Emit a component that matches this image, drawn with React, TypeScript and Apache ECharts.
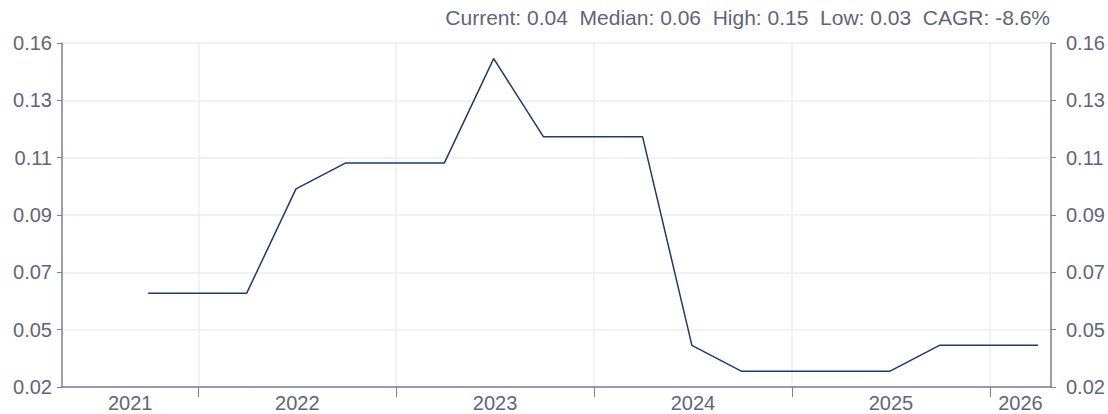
import React, { useEffect, useRef } from "react";
import * as echarts from "echarts";

const dates: string[] = [
  "2021-09-30", "2021-12-31", "2022-03-31", "2022-06-30", "2022-09-30",
  "2022-12-31", "2023-03-31", "2023-06-30", "2023-09-30", "2023-12-31",
  "2024-03-31", "2024-06-30", "2024-09-30", "2024-12-31", "2025-03-31",
  "2025-06-30", "2025-09-30", "2025-12-31", "2026-03-31",
];
const values: number[] = [
  0.06, 0.06, 0.06, 0.10, 0.11,
  0.11, 0.11, 0.15, 0.12, 0.12,
  0.12, 0.04, 0.03, 0.03, 0.03,
  0.03, 0.04, 0.04, 0.04,
];
const yearStarts: string[] = ["2022-01-01", "2023-01-01", "2024-01-01", "2025-01-01", "2026-01-01"];
const axisStart = "2021-04-24";
const axisEnd = "2026-04-24";
const summary = "Current: 0.04  Median: 0.06  High: 0.15  Low: 0.03  CAGR: -8.6%";

const FONT = "'Liberation Sans', Arial, Helvetica, sans-serif";
const TEXT = "#5f6480";
const AXIS = "#7b7f99";
const GRIDC = "#ececf4";
const LINE = "#1f3a6e";

export default function App() {
  const ref = useRef<HTMLDivElement>(null);
  useEffect(() => {
    if (!ref.current) return;
    const chart = echarts.init(ref.current, undefined, { renderer: "svg" });
    const DAY = 86400000;
    const t = (s: string) => new Date(s + "T00:00:00Z").getTime() / DAY;
    const minT = t(axisStart);
    const maxT = t(axisEnd);
    const bounds = [minT, ...yearStarts.map(t), maxT];
    const labelVals: number[] = [];
    for (let i = 0; i < bounds.length - 1; i++) labelVals.push((bounds[i] + bounds[i + 1]) / 2);
    const yAxisBase = {
      type: "value" as const,
      min: 0.024,
      max: 0.156,
      interval: 0.022,
      axisLine: { show: true, lineStyle: { color: AXIS, width: 1.5 } },
      axisTick: { show: true, length: 5, lineStyle: { color: AXIS } },
      axisLabel: {
        color: TEXT,
        fontSize: 20,
        fontFamily: FONT,
        formatter: (v: number) => v.toFixed(2),
      },
    };
    chart.setOption({
      animation: false,
      title: {
        text: summary,
        right: 58,
        top: 7,
        padding: 0,
        textStyle: { color: TEXT, fontSize: 21, fontWeight: "normal", fontFamily: FONT },
      },
      grid: { left: 62, right: 57, top: 43, bottom: 27 },
      xAxis: {
        type: "value",
        min: minT,
        max: maxT,
        axisLine: { show: true, lineStyle: { color: AXIS, width: 1.5 } },
        axisTick: { show: true, length: 10, customValues: yearStarts.map(t), lineStyle: { color: AXIS } },
        splitLine: { show: true, lineStyle: { color: GRIDC, width: 1.5 } },
        axisLabel: {
          customValues: labelVals,
          color: TEXT,
          fontSize: 20,
          fontFamily: FONT,
          margin: 6,
          hideOverlap: false,
          formatter: (v: number) => String(new Date(v * DAY).getUTCFullYear()),
        },
      },
      yAxis: [
        {
          ...yAxisBase,
          position: "left",
          splitLine: { show: true, lineStyle: { color: GRIDC, width: 1.5 } },
          axisLabel: { ...yAxisBase.axisLabel, margin: 10 },
        },
        {
          ...yAxisBase,
          position: "right",
          splitLine: { show: false },
          axisLabel: { ...yAxisBase.axisLabel, margin: 15 },
        },
      ],
      series: [
        {
          type: "line",
          data: dates.map((d, i) => [t(d), values[i]]),
          showSymbol: false,
          symbol: "none",
          lineStyle: { color: LINE, width: 1.5 },
          itemStyle: { color: LINE },
        },
      ],
    });
    return () => chart.dispose();
  }, []);
  return <div ref={ref} style={{ width: 1108, height: 414, position: "absolute", left: 0, top: 0 }} />;
}
